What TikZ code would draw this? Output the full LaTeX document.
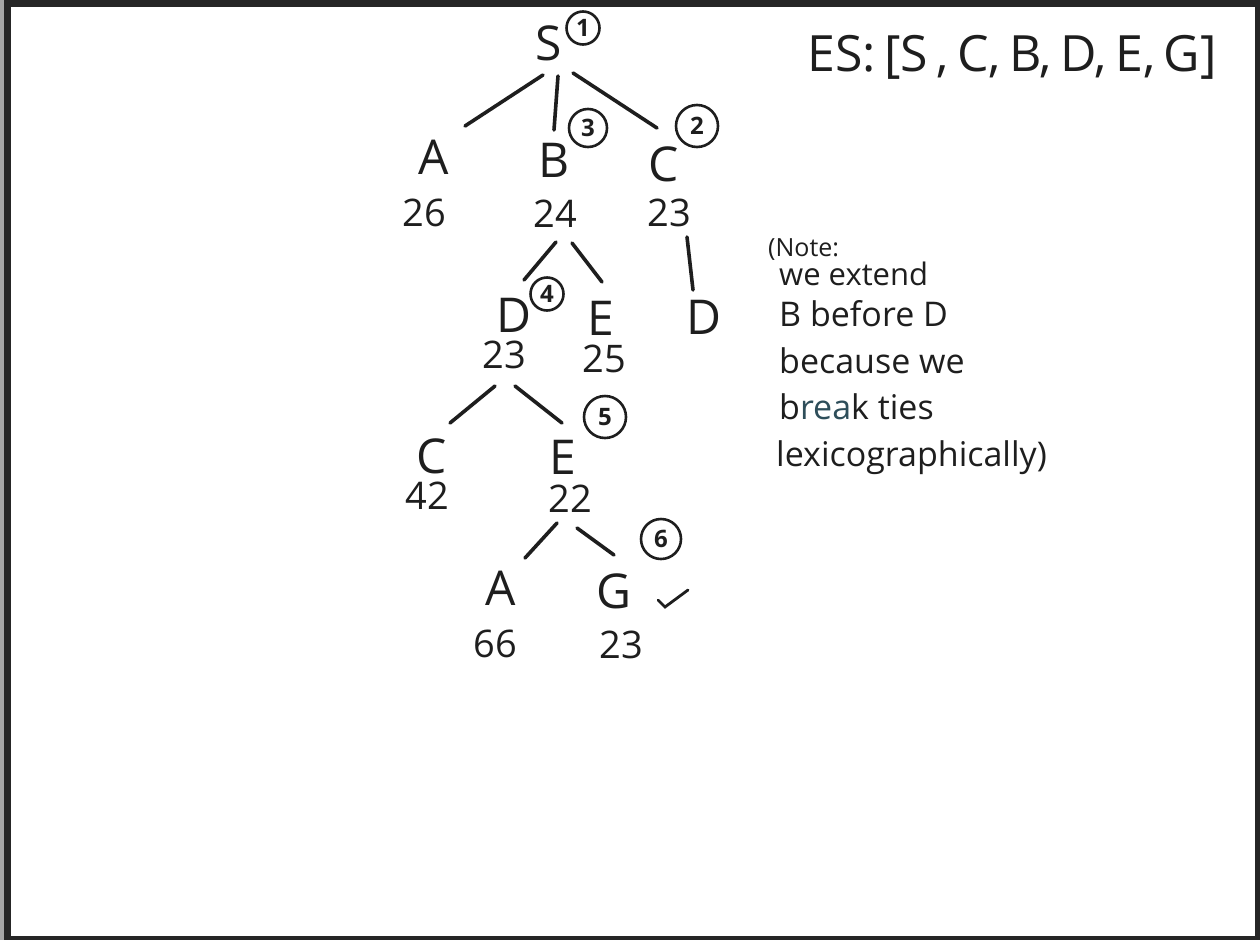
\documentclass[tikz,border=0pt]{standalone}
\usepackage{fontspec}
\setmainfont{Open Sans}
\usetikzlibrary{calc}
\definecolor{ink}{HTML}{1E1E1E}
\definecolor{frame}{HTML}{262626}
\definecolor{bluish}{HTML}{2E4E5A}
\begin{document}
\begin{tikzpicture}[x=1pt,y=-1pt,
  lt/.style={font=\fontsize{48}{48}\selectfont, text=ink, inner sep=0pt},
  num/.style={font=\fontsize{38}{38}\selectfont, text=ink, inner sep=0pt},
  ord/.style={circle, draw=ink, line width=2.6pt, inner sep=0pt, minimum size=36pt, font=\fontsize{24}{24}\selectfont\bfseries, text=ink},
  edge/.style={draw=ink, line width=3.6pt, line cap=round},
  note/.style={font=\fontsize{34}{34}\selectfont, text=ink, inner sep=0pt, anchor=base west}]
% frame
\useasboundingbox (0,0) rectangle (1260,940);
\fill[frame] (0,0) rectangle (1260,940);
\fill[white] (11,7) rectangle (1255,936);
\fill[black!35] (0,0) rectangle (4,940);
% tree nodes
\node[lt] (S) at (549,43) {S};
\node[ord, minimum size=33pt] (o1) at (583,28) {1};
\node[lt] (A1) at (434,157) {A};
\node[lt] (B1) at (554,160) {B};
\node[ord, minimum size=38pt] (o3) at (588,128) {3};
\node[lt] (C1) at (664,164) {C};
\node[ord, minimum size=42pt] (o2) at (697,126) {2};
\node[num] (nA1) at (424,213) {26};
\node[num] (nB1) at (555,214) {24};
\node[num] (nC1) at (669,213) {23};
\node[lt] (D1) at (514,315) {D};
\node[ord, minimum size=33pt] (o4) at (547,294) {4};
\node[lt] (E1) at (601,318) {E};
\node[lt] (D2) at (704,317) {D};
\node[num] (nD1) at (504,355) {23};
\node[num] (nE1) at (604,359) {25};
\node[lt] (C2) at (432,456) {C};
\node[ord, minimum size=42pt] (o5) at (605,417) {5};
\node[lt] (E2) at (563,457) {E};
\node[num] (nC2) at (427,496) {42};
\node[num] (nE2) at (570,499) {22};
\node[lt] (A2) at (501,588) {A};
\node[lt] (G) at (614,591) {G};
\node[ord, minimum size=40pt] (o6) at (661,539) {6};
\node[num] (nA2) at (495,644) {66};
\node[num] (nG) at (621,645) {23};
% check mark
\draw[edge, line width=2.8pt] (658,600) -- (665,607) -- (688,590);
% edges
\draw[edge] ([shift={(-6,32)}]S.center) -- ([shift={(31,-31)}]A1.center);
\draw[edge] ([shift={(9,33)}]S.center) -- ([shift={(0,-30)}]B1.center);
\draw[edge] ([shift={(24,30)}]S.center) -- ([shift={(-7,-36)}]C1.center);
\draw[edge] ([shift={(1,28)}]nB1.center) -- ([shift={(10,-35)}]D1.center);
\draw[edge] ([shift={(17,29)}]nB1.center) -- ([shift={(1,-36)}]E1.center);
\draw[edge] ([shift={(18,24)}]nC1.center) -- ([shift={(-11,-27)}]D2.center);
\draw[edge] ([shift={(-9,31)}]nD1.center) -- ([shift={(18,-33)}]C2.center);
\draw[edge] ([shift={(11,31)}]nD1.center) -- ([shift={(-1,-34)}]E2.center);
\draw[edge] ([shift={(-13,24)}]nE2.center) -- ([shift={(24,-30)}]A2.center);
\draw[edge] ([shift={(7,29)}]nE2.center) -- ([shift={(0,-36)}]G.center);
% expansion sequence
\node[font=\fontsize{50}{50}\selectfont, text=ink, inner sep=0pt] (es) at (1012,57) {ES:\,[S\,,\,C,\,B,\,D,\,E,\,G]};
% note
\node[note, font=\fontsize{25}{25}\selectfont] (n1) at (768,256) {(Note:};
\node[note, font=\fontsize{31}{31}\selectfont] (n2) at (779,285) {we extend};
\node[note] (n3) at (779,326) {B before D};
\node[note] (n4) at (779,373) {because we};
\node[note] (n5) at (779,419) {b\textcolor{bluish}{rea}k ties};
\node[note] (n6) at (776,466) {lexicographically)};
\end{tikzpicture}
\end{document}
